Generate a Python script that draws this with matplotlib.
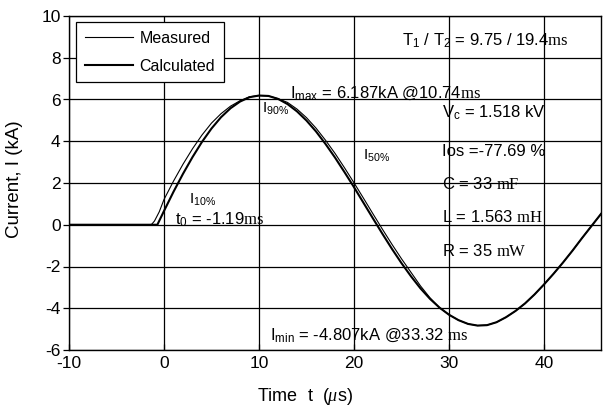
import matplotlib
matplotlib.use("Agg")
import matplotlib.pyplot as plt

plt.rcParams['font.family'] = ['Liberation Sans', 'DejaVu Sans']
plt.rcParams['mathtext.fontset'] = 'custom'
plt.rcParams['mathtext.rm'] = 'Liberation Serif'
plt.rcParams['mathtext.sf'] = 'Liberation Sans'
plt.rcParams['mathtext.it'] = 'Liberation Serif:italic'
plt.rcParams['axes.unicode_minus'] = False

# ---- data ----
t_calc = [-10, -0.7, 0, 1, 2, 3, 4, 5, 6, 7, 8, 9, 10, 11, 12, 13, 14, 15, 16, 17, 18, 19, 20,
          21, 22, 23, 24, 25, 26, 27, 28, 29, 30, 31, 32, 33, 34, 35, 36, 37, 38, 39, 40,
          41, 42, 43, 44, 45, 46]
i_calc = [0, 0, 0.66, 1.58, 2.44, 3.24, 3.97, 4.61, 5.15, 5.58, 5.90, 6.11, 6.19, 6.17, 6.03,
          5.78, 5.43, 4.99, 4.47, 3.87, 3.22, 2.52, 1.80, 1.05, 0.30, -0.44, -1.16, -1.84,
          -2.47, -3.05, -3.55, -3.97, -4.31, -4.57, -4.75, -4.83, -4.81, -4.67, -4.43, -4.13,
          -3.77, -3.34, -2.86, -2.35, -1.81, -1.24, -0.64, -0.06, 0.52]

t_meas = [-10, -6, -3, -1.5, -1.3, -1, -0.5, 0, 1, 2, 3, 4, 5, 6, 7, 8, 9, 10, 11, 12, 13, 14,
          15, 16, 17, 18, 19, 20, 21, 22, 23, 24, 25, 26, 27, 28, 29, 30, 31, 32, 33, 34, 35,
          36, 37, 38, 39, 40, 41, 42, 43, 44, 45, 46]
i_meas = [0, 0, 0, 0, 0.02, 0.18, 0.62, 1.21, 2.09, 2.90, 3.64, 4.30, 4.87, 5.32, 5.68, 5.94,
          6.13, 6.19, 6.17, 6.04, 5.86, 5.54, 5.13, 4.63, 4.05, 3.42, 2.73, 2.01, 1.27, 0.52,
          -0.22, -0.94, -1.63, -2.28, -2.93, -3.50, -3.97, -4.31, -4.57, -4.75, -4.83, -4.81,
          -4.67, -4.43, -4.13, -3.77, -3.34, -2.86, -2.35, -1.81, -1.24, -0.64, -0.06, 0.52]

x_ticks = [-10, 0, 10, 20, 30, 40]
y_ticks = [-6, -4, -2, 0, 2, 4, 6, 8, 10]

fig = plt.figure(figsize=(6.05, 4.12), dpi=100)
ax = fig.add_axes([69/605, 1-350/412, (601-69)/605, (350-16)/412])

ax.plot(t_meas, i_meas, color='black', lw=0.8, label='Measured')
ax.plot(t_calc, i_calc, color='black', lw=1.5, label='Calculated')

ax.set_xlim(-10, 46)
ax.set_ylim(-6, 10)
ax.set_xticks(x_ticks)
ax.set_yticks(y_ticks)
ax.grid(True, color='black', lw=0.9)
for s in ax.spines.values():
    s.set_color('black')
    s.set_linewidth(1.0)
ax.tick_params(axis='both', labelsize=12.5, colors='black', length=4, width=0.9)
ax.tick_params(axis='x', direction='in', pad=4)
ax.tick_params(axis='y', pad=2)

ax.set_xlabel(r'Time  t  ($\mu$s)', fontsize=13)
ax.xaxis.set_label_coords((305-69)/532, (350-386)/334)
ax.set_ylabel('Current, I (kA)', fontsize=13.5)
ax.yaxis.set_label_coords((23-69)/532, 0.51)

leg = ax.legend(loc='upper left', bbox_to_anchor=(0.014, 0.982), fontsize=11.5,
                frameon=True, fancybox=False, edgecolor='black', framealpha=1,
                handlelength=3.0, handletextpad=0.4, labelspacing=0.8,
                borderpad=0.55, borderaxespad=0)
leg.get_frame().set_linewidth(0.9)

fs = 12
ax.text(25.1, 8.6, r'T$_\mathsf{1}$ / T$_\mathsf{2}$ = 9.75 / 19.4$\mathrm{ms}$', fontsize=fs, va='baseline')
ax.text(13.3, 6.1, r'I$_\mathsf{max}$ = 6.187kA @10.74$\mathrm{ms}$', fontsize=fs, va='baseline')
ax.text(10.3, 5.35, r'I$_\mathsf{90\%}$', fontsize=11, va='baseline')
ax.text(29.3, 5.15, r'V$_\mathsf{c}$ = 1.518 kV', fontsize=fs, va='baseline')
ax.text(29.3, 3.3, 'Ios =-77.69 %', fontsize=fs, va='baseline')
ax.text(29.3, 1.73, r'C = 33 $\mathrm{mF}$', fontsize=fs, va='baseline')
ax.text(29.3, 0.15, r'L = 1.563 $\mathrm{mH}$', fontsize=fs, va='baseline')
ax.text(29.3, -1.5, r'R = 35 $\mathrm{mW}$', fontsize=fs, va='baseline')
ax.text(20.9, 3.1, r'I$_\mathsf{50\%}$', fontsize=11, va='baseline')
ax.text(1.2, 0.0, r't$_\mathsf{0}$ = -1.19$\mathrm{ms}$', fontsize=fs, va='baseline')
ax.text(2.6, 1.0, r'I$_\mathsf{10\%}$', fontsize=11, va='baseline')
ax.text(11.2, -5.5, r'I$_\mathsf{min}$ = -4.807kA @33.32 $\mathrm{ms}$', fontsize=fs, va='baseline')

fig.savefig('out.png', dpi=100)
